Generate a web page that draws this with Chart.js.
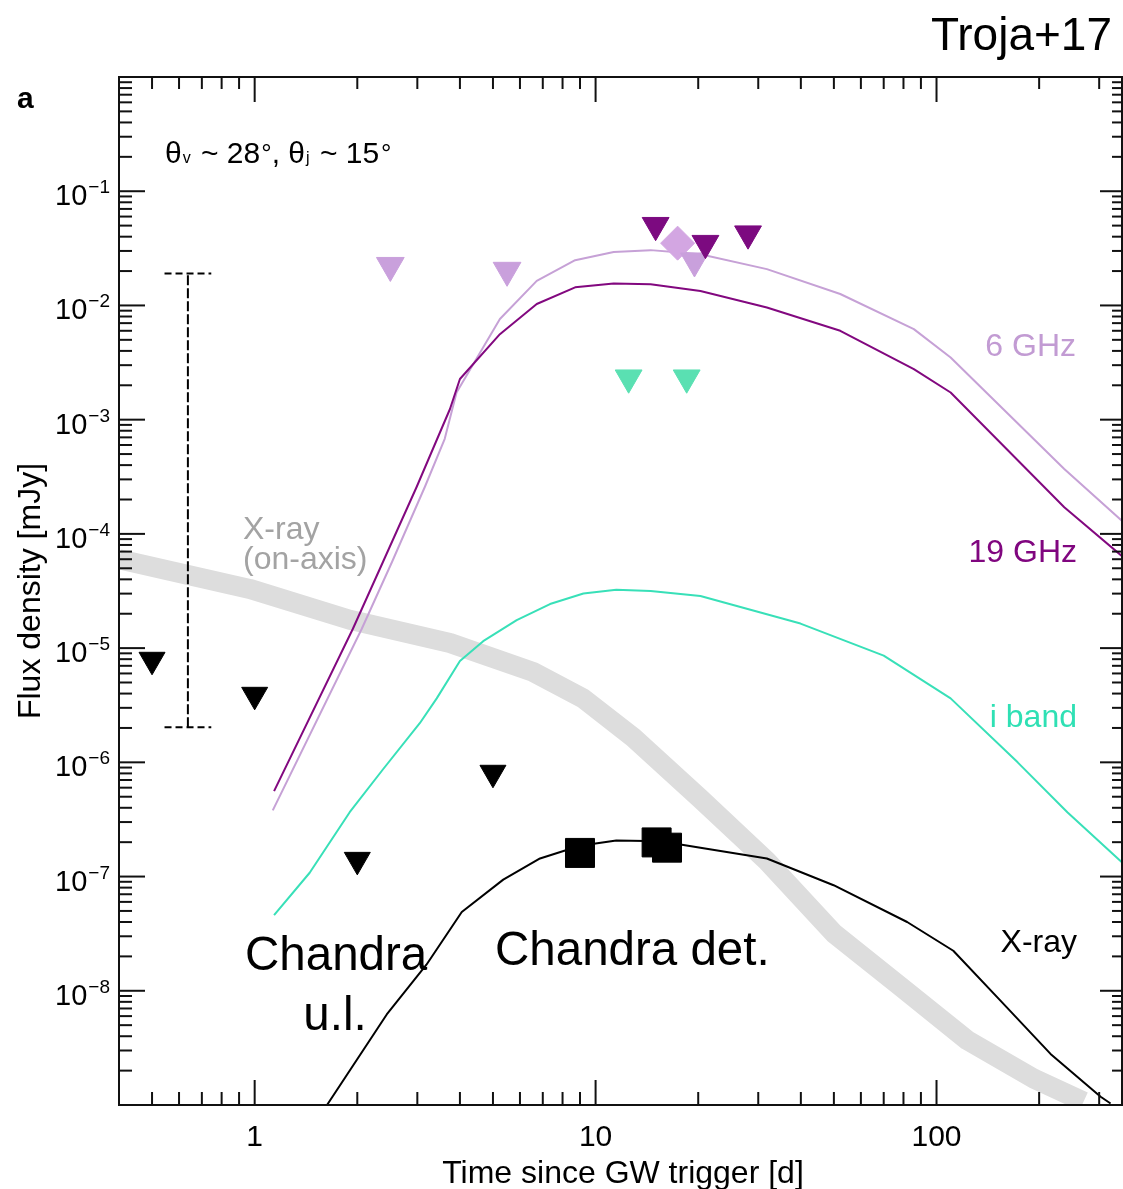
<!DOCTYPE html>
<html>
<head>
<meta charset="utf-8">
<script src="https://cdn.jsdelivr.net/npm/chart.js@4.4.0/dist/chart.umd.min.js"></script>
<style>
  html, body { margin: 0; padding: 0; background: #fff; overflow: hidden; }
  #wrap { width: 1123px; height: 1189px; }
  canvas { display: block; }
</style>
</head>
<body>
<div id="wrap"><canvas id="c" width="1123" height="1189"></canvas></div>
<script>
// ---------------- data ----------------
// Time since GW trigger [d] and flux density [mJy]
const t19 = [1.14, 1.94, 2.38, 2.99, 3.74, 4.00, 5.24, 6.72, 8.71, 11.3, 14.5, 20.3, 31.8, 52.2, 85.8, 110, 237, 354];
const f19 = [5.6e-7, 1.47e-5, 5.7e-5, 2.6e-4, 1.24e-3, 2.27e-3, 5.6e-3, 1.03e-2, 1.44e-2, 1.56e-2, 1.53e-2, 1.34e-2, 9.6e-3, 6.0e-3, 2.77e-3, 1.73e-3, 1.71e-4, 6.2e-5];

const t6 = [1.13, 2.06, 2.53, 3.16, 3.61, 3.91, 5.24, 6.72, 8.71, 11.3, 14.5, 17.7, 20.3, 31.8, 52.2, 85.8, 110, 237, 354];
const f6 = [3.8e-7, 1.47e-5, 5.7e-5, 2.6e-4, 6.8e-4, 1.73e-3, 7.6e-3, 1.64e-2, 2.49e-2, 2.94e-2, 3.05e-2, 2.91e-2, 2.81e-2, 2.08e-2, 1.26e-2, 6.2e-3, 3.5e-3, 3.7e-4, 1.26e-4];

const tI = [1.14, 1.45, 1.90, 2.38, 3.05, 3.42, 4.0, 4.68, 5.87, 7.35, 9.21, 11.5, 14.5, 20.3, 39.9, 70.0, 110, 173, 242, 354];
const fI = [4.6e-8, 1.08e-7, 3.66e-7, 8.7e-7, 2.2e-6, 3.63e-6, 7.7e-6, 1.15e-5, 1.76e-5, 2.43e-5, 3.01e-5, 3.24e-5, 3.16e-5, 2.86e-5, 1.64e-5, 8.6e-6, 3.63e-6, 1.0e-6, 3.66e-7, 1.29e-7];

const tX = [1.63, 2.44, 3.19, 4.05, 5.36, 6.87, 9.0, 11.5, 15.5, 20.3, 31.8, 49.9, 82.0, 112, 154, 216, 303, 324];
const fX = [1.0e-9, 6.2e-9, 1.69e-8, 4.9e-8, 9.4e-8, 1.44e-7, 1.86e-7, 2.07e-7, 2.04e-7, 1.79e-7, 1.44e-7, 8.4e-8, 4.0e-8, 2.24e-8, 8.2e-9, 2.8e-9, 1.18e-9, 1.03e-9];

const tXon = [0.40, 0.967, 1.90, 3.74, 6.55, 9.19, 12.9, 20.3, 31.8, 49.9, 78.4, 123, 193, 270];
const fXon = [6.0e-5, 3.3e-5, 1.77e-5, 1.11e-5, 6.2e-6, 3.63e-6, 1.65e-6, 4.8e-7, 1.37e-7, 3.2e-8, 1.09e-8, 3.7e-9, 1.7e-9, 1.07e-9];

const tChandraUL = [0.5, 1.0, 2.0, 5.0];
const fChandraUL = [7.9e-6, 3.9e-6, 1.4e-7, 8.1e-7];
const tChandraDet = [9.0, 15.1, 16.2];
const fChandraDet = [1.61e-7, 1.99e-7, 1.79e-7];

const t6UL = [2.5, 5.5, 19.5];
const f6UL = [0.0224, 0.0203, 0.0245];
const t6Det = [17.4];
const f6Det = [0.0351];
const t19UL = [15.0, 21.0, 28.0];
const f19UL = [0.0504, 0.0351, 0.0425];
const tIUL = [12.5, 18.5];
const fIUL = [2.33e-3, 2.33e-3];

// dashed range bar on the left
const errT = [0.637, 0.637];
const errF = [2.03e-6, 0.019];
const capT = [0.544, 0.746];
const capLowF = [2.03e-6, 2.03e-6];
const capHighF = [0.019, 0.019];

// axes
const xMin = 0.4, xMax = 350, yMin = 1e-9, yMax = 1;
const xTickValues = [1, 10, 100];
const xTickLabels = ['1', '10', '100'];
const yTickValues = [1e-8, 1e-7, 1e-6, 1e-5, 1e-4, 1e-3, 1e-2, 1e-1];
const yTickExponents = ['\u22128', '\u22127', '\u22126', '\u22125', '\u22124', '\u22123', '\u22122', '\u22121'];

// ---------------- helpers ----------------
const pts = (ts, fs) => ts.map((t, i) => ({ x: t, y: fs[i] }));
const FONT = "'Liberation Sans', Arial, Helvetica, sans-serif";

function curve(label, ts, fs, color, width, order, extra) {
  return Object.assign({
    label, data: pts(ts, fs), showLine: true, borderColor: color, backgroundColor: color,
    borderWidth: width, pointRadius: 0, tension: 0, order, clip: 0,
    borderJoinStyle: 'round', borderCapStyle: 'butt'
  }, extra || {});
}
function markers(label, ts, fs, color, style, radius, order, rotation) {
  return {
    label, data: pts(ts, fs), showLine: false, pointStyle: style, pointRadius: radius,
    pointRotation: rotation || 0, backgroundColor: color, borderColor: color, borderWidth: 1,
    order
  };
}

// ---------------- custom frame / ticks / text plugin ----------------
const framePlugin = {
  id: 'frame',
  afterDraw(chart) {
    const { ctx, chartArea: a, scales: { x, y } } = chart;
    ctx.save();
    ctx.strokeStyle = '#111';
    ctx.lineWidth = 2;
    ctx.strokeRect(a.left, a.top, a.right - a.left, a.bottom - a.top);

    const seg = (x1, y1, x2, y2) => { ctx.beginPath(); ctx.moveTo(x1, y1); ctx.lineTo(x2, y2); ctx.stroke(); };
    // x ticks (inward, bottom & top)
    for (let e = -1; e <= 2; e++) {
      for (let m = 1; m <= 9; m++) {
        const v = m * Math.pow(10, e);
        if (v < xMin || v > xMax) continue;
        const px = x.getPixelForValue(v);
        const major = m === 1;
        seg(px, a.bottom, px, a.bottom - (major ? 25 : 13));
        seg(px, a.top, px, a.top + (major ? 25 : 12));
      }
    }
    // y ticks (inward, left & right)
    for (let e = -9; e <= 0; e++) {
      for (let m = 1; m <= 9; m++) {
        const v = m * Math.pow(10, e);
        if (v < yMin || v > yMax) continue;
        const py = y.getPixelForValue(v);
        const major = m === 1;
        seg(a.left, py, a.left + (major ? 26 : 13), py);
        seg(a.right, py, a.right - (major ? 22 : 10), py);
      }
    }

    ctx.fillStyle = '#000';
    // x tick labels
    ctx.font = '30px ' + FONT;
    ctx.textAlign = 'center';
    ctx.textBaseline = 'alphabetic';
    xTickValues.forEach((v, i) => {
      ctx.fillText(xTickLabels[i], x.getPixelForValue(v), a.bottom + 41);
    });
    // y tick labels 10^n
    yTickValues.forEach((v, i) => {
      const py = y.getPixelForValue(v);
      ctx.font = '19px ' + FONT;
      const we = ctx.measureText(yTickExponents[i]).width;
      ctx.font = '29px ' + FONT;
      const wb = ctx.measureText('10').width;
      const right = 110;
      ctx.textAlign = 'left';
      ctx.fillText('10', right - we - wb - 1, py + 14);
      ctx.font = '19px ' + FONT;
      ctx.fillText(yTickExponents[i], right - we, py + 2);
    });

    // axis titles
    ctx.textAlign = 'center';
    ctx.font = '32px ' + FONT;
    ctx.fillText('Time since GW trigger [d]', 623, 1183);
    ctx.save();
    ctx.translate(40, 591);
    ctx.rotate(-Math.PI / 2);
    ctx.fillText('Flux density [mJy]', 0, 0);
    ctx.restore();

    // panel letter and source
    ctx.textAlign = 'left';
    ctx.font = 'bold 30px ' + FONT;
    ctx.fillText('a', 17, 108);
    ctx.textAlign = 'right';
    ctx.font = '46px ' + FONT;
    ctx.fillText('Troja+17', 1112, 50);

    // angle annotation
    let cx = 165; const by = 163;
    const piece = (txt, size, dy, gap) => {
      ctx.font = size + 'px ' + FONT;
      ctx.textAlign = 'left';
      ctx.fillText(txt, cx, by + (dy || 0));
      cx += ctx.measureText(txt).width + (gap || 0);
    };
    piece('\u03B8', 30, 0, 1); piece('v', 16, 0, 2); piece(' ~ 28', 30, 0, 1); piece('\u00B0', 26, -1);
    piece(', \u03B8', 30, 0, 1); piece('j', 16, 0, 2); piece(' ~ 15', 30, 0, 2); piece('\u00B0', 26, -1);

    // series labels
    ctx.font = '32px ' + FONT;
    ctx.textAlign = 'left';
    ctx.fillStyle = '#a3a3a3';
    ctx.fillText('X-ray', 243, 539);
    ctx.fillText('(on-axis)', 243, 569);
    ctx.textAlign = 'right';
    ctx.fillStyle = '#c29bd3';
    ctx.fillText('6 GHz', 1076, 356);
    ctx.fillStyle = '#80067f';
    ctx.fillText('19 GHz', 1077, 562);
    ctx.fillStyle = '#2fe0b4';
    ctx.fillText('i band', 1077, 727);
    ctx.fillStyle = '#000';
    ctx.fillText('X-ray', 1077, 952);

    // Chandra annotations
    ctx.font = '47.5px ' + FONT;
    ctx.textAlign = 'left';
    ctx.fillText('Chandra', 245, 970);
    ctx.fillText('Chandra det.', 495, 965);
    ctx.textAlign = 'center';
    ctx.fillText('u.l.', 335, 1030);
    ctx.restore();
  }
};

// ---------------- chart ----------------
const datasets = [
  markers('19 GHz u.l.', t19UL, f19UL, '#7c0a80', 'triangle', 15.5, 0, 180),
  markers('6 GHz u.l.', t6UL, f6UL, '#c9a0dc', 'triangle', 16, 1, 180),
  markers('6 GHz det.', t6Det, f6Det, '#d3a6e2', 'rectRot', 17, 2),
  markers('i band u.l.', tIUL, fIUL, '#5ae0b2', 'triangle', 15.5, 1, 180),
  markers('Chandra u.l.', tChandraUL, fChandraUL, '#000000', 'triangle', 15, 1, 180),
  markers('Chandra det.', tChandraDet, fChandraDet, '#000000', 'rect', 20.5, 1),
  curve('X-ray', tX, fX, '#000000', 2, 5),
  curve('i band', tI, fI, '#38e0b8', 2, 5),
  curve('19 GHz', t19, f19, '#82087f', 2, 5),
  curve('6 GHz', t6, f6, '#c6a1d6', 2, 5),
  curve('range', errT, errF, '#000000', 2, 6, { borderDash: [10, 3] }),
  curve('range low', capT, capLowF, '#000000', 2, 6, { borderDash: [7, 4] }),
  curve('range high', capT, capHighF, '#000000', 2, 6, { borderDash: [7, 4] }),
  curve('X-ray (on-axis)', tXon, fXon, '#dddddd', 20, 10)
];

new Chart(document.getElementById('c'), {
  type: 'scatter',
  data: { datasets },
  options: {
    responsive: false,
    animation: false,
    events: [],
    layout: { autoPadding: false, padding: { left: 119, right: 1, top: 77, bottom: 84 } },
    plugins: { legend: { display: false }, tooltip: { enabled: false }, title: { display: false } },
    scales: {
      x: { type: 'logarithmic', min: xMin, max: xMax, display: false, bounds: 'data' },
      y: { type: 'logarithmic', min: yMin, max: yMax, display: false, bounds: 'data' }
    }
  },
  plugins: [framePlugin]
});
</script>
</body>
</html>
